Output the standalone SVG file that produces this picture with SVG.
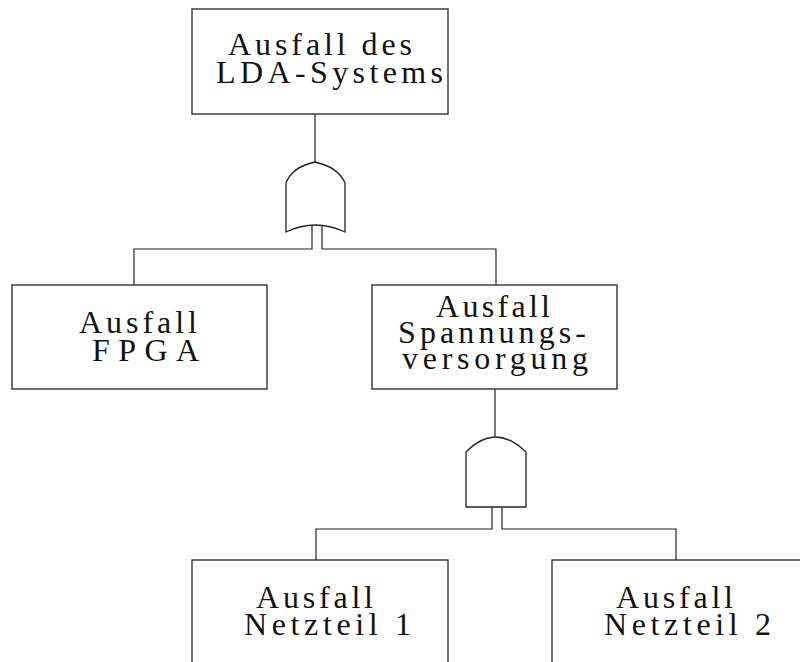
<svg xmlns="http://www.w3.org/2000/svg" width="800" height="662" viewBox="0 0 800 662">
<style>
.box{fill:#fff;stroke:#333;stroke-width:1.4}
.gate{fill:#fff;stroke:#222;stroke-width:1.3}
.con{fill:none;stroke:#222;stroke-width:1.2}
text{font-family:"Liberation Serif","Times New Roman",serif;font-size:32px;fill:#111}
</style>
<rect width="800" height="662" fill="#fff"/>
<g id="connectors">
<path class="con" d="M315,114 V162"/>
<path class="con" d="M312,225 V249 H134 V285"/>
<path class="con" d="M322,225 V249 H496 V285"/>
<path class="con" d="M495,389 V437"/>
<path class="con" d="M492,507 V529 H316 V560"/>
<path class="con" d="M502,507 V529 H676 V560"/>
</g>
<g id="top">
<rect class="box" x="192" y="9" width="256" height="105"/>
<text x="228" y="55" textLength="184" lengthAdjust="spacing">Ausfall des</text>
<text x="216" y="83" textLength="227" lengthAdjust="spacing">LDA-Systems</text>
</g>
<g id="or-gate">
<path class="gate" d="M286,232 L286,183 Q292,167 315,162 Q338,167 345,183 L345,232 Q315,218 286,232 Z"/>
</g>
<g id="fpga">
<rect class="box" x="12" y="285" width="255" height="104"/>
<text x="79" y="333" textLength="118" lengthAdjust="spacing">Ausfall</text>
<text x="92" y="361" textLength="107" lengthAdjust="spacing">FPGA</text>
</g>
<g id="spannung">
<rect class="box" x="372" y="285" width="245" height="104"/>
<text x="436" y="317" textLength="114" lengthAdjust="spacing">Ausfall</text>
<text x="398" y="343" textLength="188" lengthAdjust="spacing">Spannungs-</text>
<text x="402" y="369" textLength="186" lengthAdjust="spacing">versorgung</text>
</g>
<g id="and-gate">
<path class="gate" d="M466,507 L466,452 Q495,422 526,452 L526,507 Z"/>
</g>
<g id="netzteil1">
<rect class="box" x="192" y="560" width="256" height="120"/>
<text x="256" y="608" textLength="117" lengthAdjust="spacing">Ausfall</text>
<text x="244" y="635" textLength="167" lengthAdjust="spacing">Netzteil 1</text>
</g>
<g id="netzteil2">
<rect class="box" x="552" y="560" width="270" height="120"/>
<text x="616" y="608" textLength="117" lengthAdjust="spacing">Ausfall</text>
<text x="604" y="635" textLength="167" lengthAdjust="spacing">Netzteil 2</text>
</g>
</svg>
